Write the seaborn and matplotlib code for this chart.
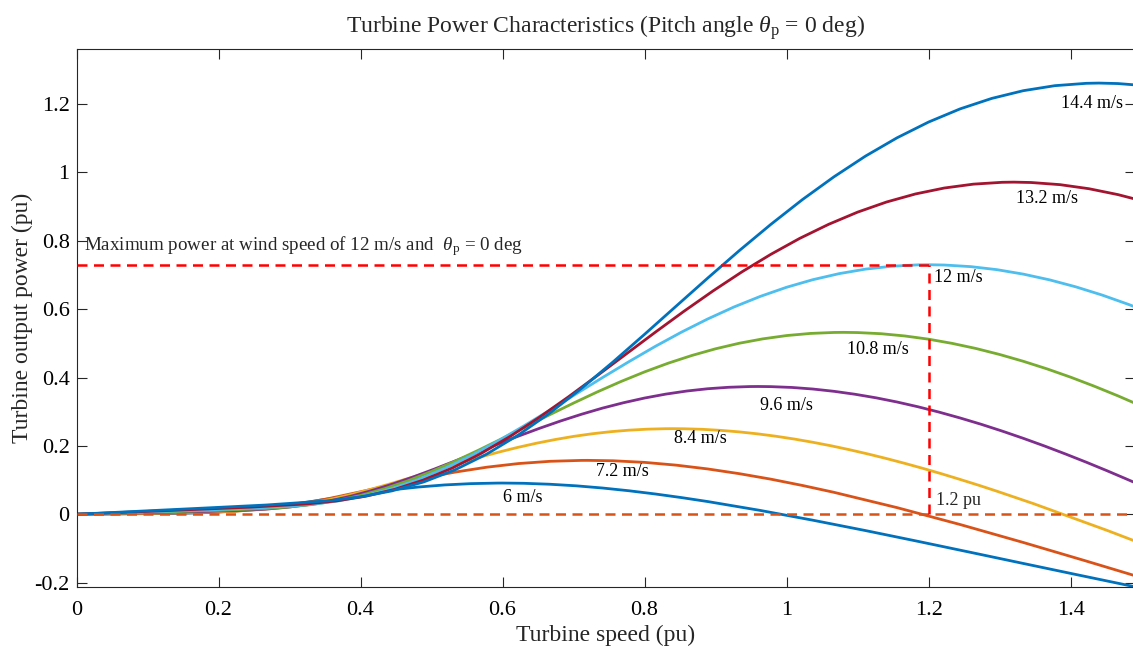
import matplotlib
matplotlib.use("Agg")
import matplotlib.pyplot as plt
import numpy as np
import pandas as pd
import seaborn as sns

sns.set_style("ticks")
plt.rcParams["font.family"] = ["Liberation Serif", "DejaVu Serif"]
plt.rcParams["mathtext.fontset"] = "custom"
plt.rcParams["mathtext.rm"] = "Liberation Serif"
plt.rcParams["mathtext.it"] = "Liberation Serif:italic"

# ---------------- data (turbine speed in pu, output power in pu) ----------------
x_6 = [0, 0.0741, 0.1111, 0.1481, 0.1852, 0.2222, 0.2593, 0.2963, 0.3333, 0.3704,
       0.4074, 0.4444, 0.4815, 0.5185, 0.5556, 0.5926, 0.6, 0.6296, 0.6667, 0.7037,
       0.7407, 0.7778, 0.8148, 0.8519, 0.8889, 0.9630, 1.0370, 1.1111, 1.1852, 1.2593,
       1.3333, 1.4074, 1.5]
p_6 = [0, 0.0013, 0.0020, 0.0029, 0.0050, 0.0094, 0.0168, 0.0266, 0.0381, 0.0500,
       0.0614, 0.0714, 0.0797, 0.0858, 0.0896, 0.0912, 0.0913, 0.0906, 0.0878, 0.0832,
       0.0768, 0.0688, 0.0594, 0.0488, 0.0372, 0.0112, -0.0174, -0.0477, -0.0793, -0.1115,
       -0.1439, -0.1762, -0.2162]

x_72 = [0, 0.0889, 0.1333, 0.1778, 0.2222, 0.2667, 0.3111, 0.3556, 0.4, 0.4444,
        0.4889, 0.5333, 0.5778, 0.6222, 0.6667, 0.7111, 0.72, 0.7556, 0.8, 0.8444,
        0.8889, 0.9333, 0.9778, 1.0222, 1.0667, 1.1556, 1.2444, 1.3333, 1.4222, 1.5]
p_72 = [0, 0.0022, 0.0034, 0.0049, 0.0086, 0.0163, 0.0290, 0.0460, 0.0658, 0.0864,
        0.1060, 0.1234, 0.1377, 0.1483, 0.1549, 0.1576, 0.1577, 0.1565, 0.1518, 0.1437,
        0.1326, 0.1188, 0.1027, 0.0843, 0.0642, 0.0194, -0.0300, -0.0825, -0.1370, -0.1856]

x_84 = [0, 0.1037, 0.1556, 0.2074, 0.2593, 0.2852, 0.3111, 0.3370, 0.3630, 0.3889,
        0.4148, 0.4407, 0.4667, 0.4926, 0.5185, 0.5444, 0.5704, 0.5963, 0.6222, 0.6481,
        0.6741, 0.7, 0.7259, 0.7519, 0.7778, 0.8037, 0.8296, 0.84, 0.8556, 0.8815,
        0.9074, 0.9333, 0.9593, 0.9852, 1.0111, 1.0370, 1.0630, 1.0889, 1.1148, 1.1407,
        1.1667, 1.1926, 1.2185, 1.2444, 1.2704, 1.2963, 1.3481, 1.4519, 1.5]
p_84 = [0, 0.0035, 0.0054, 0.0079, 0.0136, 0.0188, 0.0258, 0.0350, 0.0460, 0.0588,
        0.0731, 0.0884, 0.1045, 0.1208, 0.1371, 0.1531, 0.1683, 0.1827, 0.1960, 0.2080,
        0.2186, 0.2278, 0.2354, 0.2415, 0.2460, 0.2489, 0.2503, 0.2504, 0.2501, 0.2485,
        0.2454, 0.2410, 0.2352, 0.2282, 0.2200, 0.2106, 0.2002, 0.1887, 0.1763, 0.1630,
        0.1488, 0.1339, 0.1183, 0.1019, 0.0850, 0.0674, 0.0308, -0.0476, -0.0858]

x_96 = [0, 0.1185, 0.1778, 0.2370, 0.2667, 0.2963, 0.3259, 0.3556, 0.3852, 0.4148,
        0.4444, 0.4741, 0.5037, 0.5333, 0.5630, 0.5926, 0.6222, 0.6519, 0.6815, 0.7111,
        0.7407, 0.7704, 0.8, 0.8296, 0.8593, 0.8889, 0.9185, 0.9481, 0.96, 0.9778,
        1.0074, 1.0370, 1.0667, 1.0963, 1.1259, 1.1556, 1.1852, 1.2148, 1.2444, 1.2741,
        1.3037, 1.3333, 1.3630, 1.3926, 1.4222, 1.4519, 1.4815, 1.5]
p_96 = [0, 0.0053, 0.0080, 0.0117, 0.0151, 0.0203, 0.0280, 0.0386, 0.0522, 0.0687,
        0.0878, 0.1091, 0.1320, 0.1560, 0.1804, 0.2047, 0.2285, 0.2513, 0.2727, 0.2925,
        0.3105, 0.3263, 0.3400, 0.3514, 0.3605, 0.3672, 0.3715, 0.3736, 0.3738, 0.3734,
        0.3710, 0.3664, 0.3597, 0.3511, 0.3407, 0.3284, 0.3144, 0.2988, 0.2817, 0.2632,
        0.2433, 0.2222, 0.1999, 0.1765, 0.1522, 0.1268, 0.1006, 0.0839]

x_108 = [0, 0.1333, 0.2, 0.2667, 0.3, 0.3333, 0.3667, 0.4, 0.4333, 0.4667,
         0.5, 0.5333, 0.5667, 0.6, 0.6333, 0.6667, 0.7, 0.7333, 0.7667, 0.8,
         0.8333, 0.8667, 0.9, 0.9333, 0.9667, 1.0, 1.0333, 1.0667, 1.08, 1.1,
         1.1333, 1.1667, 1.2, 1.2333, 1.2667, 1.3, 1.3333, 1.3667, 1.4, 1.4333,
         1.4667, 1.5]
p_108 = [0, 0.0075, 0.0114, 0.0167, 0.0215, 0.0289, 0.0399, 0.0549, 0.0743, 0.0978,
         0.1251, 0.1554, 0.1880, 0.2221, 0.2568, 0.2915, 0.3253, 0.3578, 0.3883, 0.4165,
         0.4420, 0.4646, 0.4841, 0.5003, 0.5132, 0.5228, 0.5290, 0.5319, 0.5322, 0.5316,
         0.5282, 0.5216, 0.5122, 0.4999, 0.4850, 0.4675, 0.4476, 0.4254, 0.4011, 0.3747,
         0.3464, 0.3164]

x_12 = [0, 0.1481, 0.2222, 0.2963, 0.3333, 0.3704, 0.4074, 0.4444, 0.4815, 0.5185,
        0.5556, 0.5926, 0.6296, 0.6667, 0.7037, 0.7407, 0.7778, 0.8148, 0.8519, 0.8889,
        0.9259, 0.9630, 1.0, 1.0370, 1.0741, 1.1111, 1.1481, 1.1852, 1.2, 1.2222,
        1.2593, 1.2963, 1.3333, 1.3704, 1.4074, 1.4444, 1.4815, 1.5]
p_12 = [0, 0.0103, 0.0156, 0.0229, 0.0294, 0.0396, 0.0547, 0.0753, 0.1019, 0.1342,
        0.1716, 0.2131, 0.2579, 0.3046, 0.3523, 0.3998, 0.4462, 0.4908, 0.5327, 0.5713,
        0.6064, 0.6374, 0.6641, 0.6863, 0.7040, 0.7172, 0.7256, 0.7297, 0.7300, 0.7292,
        0.7245, 0.7156, 0.7026, 0.6858, 0.6653, 0.6413, 0.6140, 0.5992]

x_132 = [0, 0.1630, 0.2444, 0.3259, 0.3667, 0.4074, 0.4481, 0.4889, 0.5296, 0.5704,
         0.6111, 0.6519, 0.6926, 0.7333, 0.7741, 0.8148, 0.8556, 0.8963, 0.9370, 0.9778,
         1.0185, 1.0593, 1.1, 1.1407, 1.1815, 1.2222, 1.2630, 1.3037, 1.32, 1.3444,
         1.3852, 1.4259, 1.4667, 1.5]
p_132 = [0, 0.0138, 0.0208, 0.0305, 0.0392, 0.0528, 0.0728, 0.1003, 0.1357, 0.1786,
         0.2283, 0.2837, 0.3432, 0.4055, 0.4689, 0.5321, 0.5940, 0.6532, 0.7090, 0.7604,
         0.8071, 0.8483, 0.8839, 0.9135, 0.9371, 0.9545, 0.9658, 0.9712, 0.9717, 0.9706,
         0.9643, 0.9524, 0.9352, 0.9173]

x_144 = [0, 0.1778, 0.2667, 0.3556, 0.4, 0.4444, 0.4889, 0.5333, 0.5778, 0.6222,
         0.6667, 0.7111, 0.7556, 0.8, 0.8444, 0.8889, 0.9333, 0.9778, 1.0222, 1.0667,
         1.1111, 1.1556, 1.2, 1.2444, 1.2889, 1.3333, 1.3778, 1.4222, 1.44, 1.4667, 1.5]
p_144 = [0, 0.0179, 0.0270, 0.0396, 0.0509, 0.0685, 0.0945, 0.1302, 0.1761, 0.2319,
         0.2965, 0.3683, 0.4456, 0.5264, 0.6087, 0.6909, 0.7711, 0.8480, 0.9204, 0.9872,
         1.0478, 1.1014, 1.1475, 1.1860, 1.2166, 1.2392, 1.2539, 1.2608, 1.2615, 1.2601,
         1.2547]

wind_labels = ["6 m/s", "7.2 m/s", "8.4 m/s", "9.6 m/s", "10.8 m/s", "12 m/s", "13.2 m/s", "14.4 m/s"]
speeds = [x_6, x_72, x_84, x_96, x_108, x_12, x_132, x_144]
powers = [p_6, p_72, p_84, p_96, p_108, p_12, p_132, p_144]

max_power = 0.73      # pu, at 12 m/s
rated_speed = 1.2     # pu

x_ticks = [0, 0.2, 0.4, 0.6, 0.8, 1.0, 1.2, 1.4]
x_tick_labels = ["0", "0.2", "0.4", "0.6", "0.8", "1", "1.2", "1.4"]
y_ticks = [-0.2, 0, 0.2, 0.4, 0.6, 0.8, 1.0, 1.2]
y_tick_labels = ["-0.2", "0", "0.2", "0.4", "0.6", "0.8", "1", "1.2"]

# curve label positions (left edge, vertical centre) in data units
label_x = [0.601, 0.732, 0.841, 0.962, 1.085, 1.208, 1.323, 1.387]
label_y = [0.050, 0.126, 0.222, 0.319, 0.483, 0.694, 0.925, 1.203]

colors = ["#0072BD", "#D95319", "#EDB120", "#7E2F8E", "#77AC30", "#4DBEEE", "#A2142F", "#0072BD"]

frames = [pd.DataFrame({"speed": s, "power": p, "wind": lab})
          for s, p, lab in zip(speeds, powers, wind_labels)]
df = pd.concat(frames, ignore_index=True)

W, H = 1133, 647
fig = plt.figure(figsize=(W / 100, H / 100), dpi=100)
ax = fig.add_axes([76.5 / W, (H - 587.3) / H, (1134.5 - 76.5) / W, (587.3 - 49) / H])

sns.lineplot(data=df, x="speed", y="power", hue="wind", hue_order=wind_labels,
             palette=dict(zip(wind_labels, colors)), sort=False, estimator=None,
             linewidth=2.0, legend=False, ax=ax)
for line in ax.get_lines():
    line.set_solid_joinstyle("round")

dash = (0, (4, 2.6))
ax.axhline(0, color="#D95319", lw=1.8, ls=dash, zorder=3)
ax.hlines(max_power, 0, rated_speed, color="#FF0000", lw=1.8, ls=dash, zorder=3)
ax.vlines(rated_speed, 0, max_power, color="#FF0000", lw=1.8, ls=dash, zorder=3)

for lab, lx, ly in zip(wind_labels, label_x, label_y):
    ax.text(lx, ly, lab, fontsize=13, ha="left", va="center", color="black")

ax.text(1.211, 0.041, "1.2 pu", fontsize=13, ha="left", va="center")
ax.text(0.011, 0.785, r"Maximum power at wind speed of 12 m/s and  $\theta_{\rm p}$ = 0 deg",
        fontsize=13.7, ha="left", va="center")

ax.set_xlim(0, 1.49)
ax.set_ylim(-0.2137, 1.3612)
ax.set_xticks(x_ticks)
ax.set_xticklabels(x_tick_labels)
ax.set_yticks(y_ticks)
ax.set_yticklabels(y_tick_labels)
ax.tick_params(direction="in", length=7.5, width=0.8, top=True, right=True,
               labelsize=16, colors="#262626", labelcolor="black")
ax.tick_params(axis="x", pad=10)
ax.tick_params(axis="y", pad=5)
for side in ["left", "bottom", "top", "right"]:
    ax.spines[side].set_color("#262626")
    ax.spines[side].set_linewidth(0.8)

ax.set_xlabel("Turbine speed (pu)", fontsize=17, labelpad=3)
ax.set_ylabel("Turbine output power (pu)", fontsize=17, labelpad=1)
ax.set_title(r"Turbine Power Characteristics (Pitch angle $\theta_{\rm p}$ = 0 deg)",
             fontsize=17, pad=12)

fig.savefig("out.png", dpi=100)
